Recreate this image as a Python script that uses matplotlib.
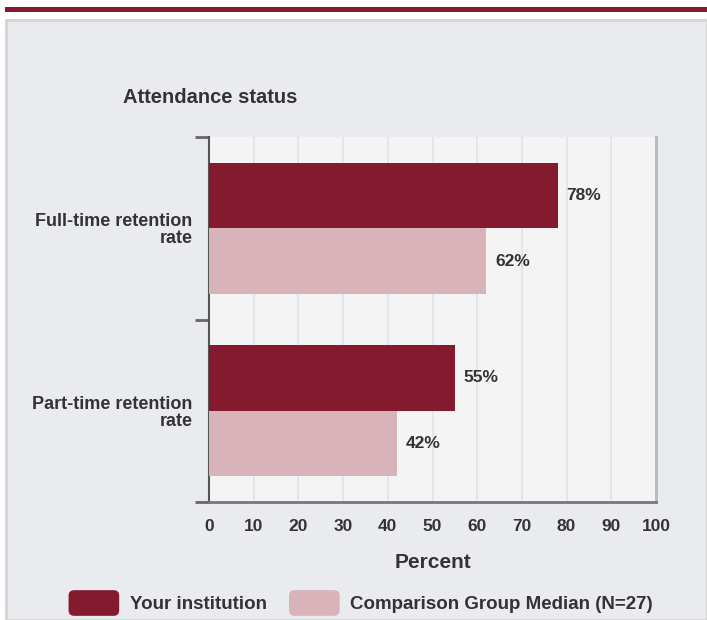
import matplotlib.pyplot as plt
import numpy as np
from matplotlib.patches import Patch, Rectangle, FancyBboxPatch
from matplotlib.legend_handler import HandlerPatch

plt.rcParams['font.family'] = ['Liberation Sans', 'DejaVu Sans']

categories = ["Full-time retention\nrate", "Part-time retention\nrate"]
institution = [78, 55]
comparison = [62, 42]
series_names = ["Your institution", "Comparison Group Median (N=27)"]

maroon = "#841A2D"
pink = "#D8B3B9"
panel_bg = "#EAEBEF"
text_c = "#333333"


class RoundHandler(HandlerPatch):
    # rounded legend swatches
    def create_artists(self, legend, orig_handle, xdescent, ydescent,
                       width, height, fontsize, trans):
        p = FancyBboxPatch((-xdescent, -ydescent - 1), width, height + 2,
                           boxstyle="round,pad=0,rounding_size=4",
                           facecolor=orig_handle.get_facecolor(),
                           edgecolor="none", transform=trans)
        return [p]


fig = plt.figure(figsize=(7.07, 6.2), dpi=100)
fig.patch.set_facecolor("white")

# top strip and panel
fig.patches.append(Rectangle((5 / 707, 1 - 12 / 620), 702 / 707, 5 / 620,
                             transform=fig.transFigure, facecolor=maroon,
                             edgecolor="none", zorder=-5))
fig.patches.append(Rectangle((6 / 707, 0), 701 / 707, 1 - 20 / 620,
                             transform=fig.transFigure, facecolor=panel_bg,
                             edgecolor="#D4D4D4", linewidth=2, zorder=-5))

ax = fig.add_axes([209 / 707, 1 - 502 / 620, 447 / 707, 365 / 620])
ax.set_facecolor("#F4F4F4")

y = np.arange(len(categories))
h = 0.36
ax.barh(y - h / 2, institution, height=h, color=maroon, zorder=3)
ax.barh(y + h / 2, comparison, height=h, color=pink, zorder=3)

for yi, v in zip(y, institution):
    ax.text(v + 2.0, yi - h / 2, f"{v}%", va="center", ha="left",
            fontsize=12.5, fontweight="bold", color=text_c)
for yi, v in zip(y, comparison):
    ax.text(v + 2.0, yi + h / 2, f"{v}%", va="center", ha="left",
            fontsize=12.5, fontweight="bold", color=text_c)

ax.set_xlim(0, 100)
ax.set_ylim(1.5, -0.5)
ax.set_xticks(np.arange(0, 101, 10))
ax.tick_params(axis="x", length=0, pad=12, labelsize=12.5, labelcolor=text_c)
for t in ax.get_xticklabels():
    t.set_fontweight("bold")
ax.xaxis.grid(True, color="#DEE3EC", linewidth=1.2, zorder=0)

ax.set_yticks(y)
ax.set_yticklabels(categories, fontsize=13, fontweight="bold", color=text_c,
                   ha="right", linespacing=1.0)
ax.tick_params(axis="y", which="major", length=0, pad=12)
ax.set_yticks([-0.5, 0.5, 1.5], minor=True)
ax.tick_params(axis="y", which="minor", length=10, width=2, color="#666666")

ax.spines["top"].set_visible(False)
ax.spines["left"].set_color("#555555")
ax.spines["left"].set_linewidth(1.5)
ax.spines["bottom"].set_color("#777777")
ax.spines["bottom"].set_linewidth(2)
ax.spines["right"].set_color("#B5B8BE")
ax.spines["right"].set_linewidth(2)

ax.set_xlabel("Percent", fontsize=15, fontweight="bold", color=text_c,
              labelpad=14)
ax.text(-0.193, 1.108, "Attendance status", transform=ax.transAxes,
        fontsize=14.5, fontweight="bold", color=text_c, ha="left",
        va="center")

handles = [Patch(facecolor=maroon), Patch(facecolor=pink)]
leg = fig.legend(handles, series_names, loc="center", ncol=2,
                 bbox_to_anchor=(0.51, 1 - 603 / 620), frameon=False,
                 handler_map={Patch: RoundHandler()},
                 handlelength=2.7, handleheight=1.5, handletextpad=0.55,
                 columnspacing=1.2, prop={"size": 13.5, "weight": "bold"})
for t in leg.get_texts():
    t.set_color(text_c)

fig.savefig("out.png", dpi=100, facecolor=fig.get_facecolor())
